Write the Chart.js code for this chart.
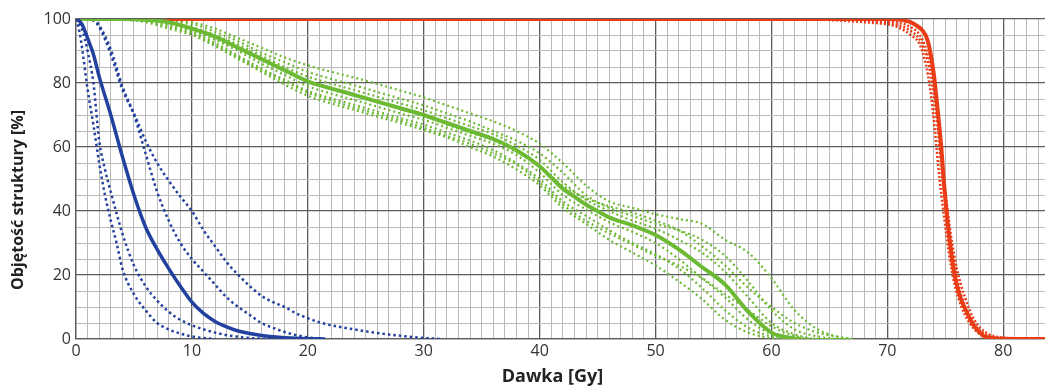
<!DOCTYPE html>
<html><head><meta charset="utf-8">
<script src="https://cdn.jsdelivr.net/npm/chart.js@4.4.1/dist/chart.umd.min.js"></script>
<style>html,body{margin:0;padding:0;background:#fff;} #wrap{width:1045px;height:387px;position:relative;}</style>
</head><body><div id="wrap"><canvas id="c" width="1045" height="387"></canvas></div>
<script>
const xAxisTitle = 'Dawka [Gy]';
const yAxisTitle = 'Objętość struktury [%]';
const xLabelTicks = [0, 10, 20, 30, 40, 50, 60, 70, 80];
const yLabelTicks = [0, 20, 40, 60, 80, 100];

// Blue structure (solid = mean, dotted = individual)
const blueSolidDose = [0,0.5,1,1.5,2,3,4,5,6,7,8,9,10,11,12,13,14,15,16,17,18,19,20,21,21.5];
const blueSolidVol  = [100,98.5,94,89,82,70,57,45,35,28,22,16.5,11.5,8,5.5,3.8,2.5,1.7,1.1,0.7,0.4,0.2,0.1,0.05,0];
const blueD1Dose = [0,0.3,0.6,1,1.5,2,2.5,3,3.5,4,5,6,7,8,9,10,11,12];
const blueD1Vol  = [100,96,89,78,67,55,45,37,30,22,14,9,5,3,1.7,0.8,0.3,0];
const blueD2Dose = [0,0.5,1,1.5,2,2.5,3,4,5,6,7,8,9,10,11,12,13,14,15,16,17];
const blueD2Vol  = [100,97,90,80,62,53,46,33,23,16.5,12,8.5,6,4.3,3,2,1.2,0.7,0.3,0.1,0];
const blueD3Dose = [0,1,1.5,2,3,4,5,6,7,8,9,10,11,12,13,14,15,16,17,18,19,20,21];
const blueD3Vol  = [100,100,99.5,97.5,89,78,70,58,46,37,30,25,21,17,13,10,7.5,5,3.5,2.2,1.2,0.5,0];
const blueD4Dose = [0,1,1.5,2,3,4,5,6,7,8,9,10,11,12,13,14,15,16,17,18,19,20,21,22,23,24,25,26,27,28,29,30,31,31.5];
const blueD4Vol  = [100,100,99.8,98,90.5,79,70.5,62,55,49.5,44.5,40,34,29,24,20,16.5,13.5,11.5,10,8,6.5,5.2,4.3,3.6,3,2.4,1.9,1.4,1,0.6,0.3,0.1,0];

// Green structure
const greenSolidDose = [0,4,6,8,10,12,14,16,18,20,22,24,26,28,30,32,34,36,38,40,41,42,43,44,45,46,48,50,52,54,56,58,60,61,62,62.5];
const greenSolidVol  = [100,100,99.8,99,97,94.5,91,87.5,84,80.5,78.3,76.3,74.2,72.1,70,67.5,65,62.5,59,54,50.5,47,44.5,42,40,38,35.5,32.5,28,22.5,17,8.5,2,0.8,0.2,0];
const greenDose = [0,4,6,8,10,12,14,16,18,20,22,24,26,28,30,32,34,36,38,40,42,44,46,48,50,52,54,56,58,60,62,64,66,67];
const greenD1Vol = [100,100,100,99.8,99,97,94,91,88,85.5,83.5,81.7,79.7,77.6,75.5,73,70.5,68,65,61,55,48,43,41,39,37.5,36,31,27,19,9,3,0.5,0];
const greenD2Vol = [100,100,99.9,99.5,98.5,96,93,89.5,86.5,83.5,81.3,79.3,77.2,75.1,73,70.5,68,65,62,58,52,45,41,38.5,36,34,31,26,18,9,3,0.8,0,0];
const greenD3Vol = [100,100,99.8,99,97.5,95,92,88.5,85,82,79.8,77.8,75.7,73.6,71.5,69,66.5,64,60.5,56,49,43.5,40,37,34.5,31,27,21,13,5,1.5,0,0,0];
const greenD4Vol = [100,100,99.5,98.5,96.5,93.5,90,86,82.5,79,76.7,74.7,72.6,70.5,68.5,66,63.5,61,57.5,52,45,40.5,36.5,33.5,30,25,19,13,6,1.5,0,0,0,0];
const greenD5Vol = [100,100,99.5,98,96,92.5,88.5,84.5,81,77.5,75.2,73.2,71.1,69,67,64.5,62,59,55,50,43,38.5,34,30,26.5,22,16,9,3.5,0.8,0,0,0,0];
const greenD6Vol = [100,99.8,99,97,95,91.5,87.5,83.5,79.5,76,73.6,71.6,69.5,67.5,65.3,63,60,57,53,48,41,36,31,27,23,18,12.5,6,2,0.3,0,0,0,0];
const greenD7Vol = [100,100,99.7,99,97,94,90.5,87,83.5,80.5,78,76,74,71.8,69.7,67,64.5,62,58.5,54,48,44,41.5,39.5,37,34,29,23,16,10,5,2,0.5,0];
const greenD8Vol = [100,99.9,99.3,97.5,95.5,92,88,84,80.5,77,74.5,72.4,70.3,68.2,66,63.5,61,58,54.5,49,42,37,33,29.5,26,23,19,14,9,4,1,0,0,0];

// Red structure
const redSolidDose = [0,70,71,72,72.5,73,73.5,74,74.3,74.65,74.9,75.1,75.4,75.8,76.3,76.9,77.5,78.3,79,80,84];
const redSolidVol  = [100,100,99.8,99,98,96.5,93,83,73,60,48,40,30,20,13,8,4,1,0.3,0.1,0];
const redD1Dose = [0,60,64,66,68,70,71,72,72.8,73.3,73.7,74.1,74.5,74.9,75.3,75.8,76.4,77,77.8,79,80];
const redD1Vol  = [100,100,99.8,99.5,99,98.3,97.3,95,92,86,78,65,50,38,27,17,10,5.5,2,0.3,0];
const redD2Dose = [0,62,66,69,71,72,72.8,73.4,73.9,74.3,74.7,75.1,75.5,76,76.6,77.3,78.2,79.5,81];
const redD2Vol  = [100,100,99.7,99.2,98,96.3,93.5,88,79,67,52,40,29,19,11,5.5,2,0.3,0];
const redD3Dose = [0,66,69,71,72,72.8,73.4,73.9,74.3,74.7,75.1,75.5,76,76.7,77.5,78.5,80,82];
const redD3Vol  = [100,100,99.6,98.8,97.5,95,90,82,70,55,43,32,22,13,6,2,0.4,0];

const BLUE = '#22409e', GREEN = '#6cba33', RED = '#ea3c16';
const MAJOR = '#5c5c5c', MINOR = '#bababa';

function pts(xs, ys) { return xs.map((x, i) => ({ x: x, y: ys[i] })); }
function solid(label, xs, ys, color, w) {
  return { label, data: pts(xs, ys), borderColor: color, borderWidth: w, pointRadius: 0, cubicInterpolationMode: 'monotone', fill: false };
}
function dotted(label, xs, ys, color, w, dash) {
  return { label, data: pts(xs, ys), borderColor: color, borderWidth: w, borderDash: dash, pointRadius: 0, cubicInterpolationMode: 'monotone', fill: false };
}

const datasets = [
  solid('blue', blueSolidDose, blueSolidVol, BLUE, 3.5),
  solid('green', greenSolidDose, greenSolidVol, GREEN, 4),
  solid('red', redSolidDose, redSolidVol, RED, 4),
  dotted('b1', blueD1Dose, blueD1Vol, BLUE, 2.5, [2.5, 3]),
  dotted('b2', blueD2Dose, blueD2Vol, BLUE, 2.5, [2.5, 3]),
  dotted('b3', blueD3Dose, blueD3Vol, BLUE, 2.5, [2.5, 3]),
  dotted('b4', blueD4Dose, blueD4Vol, BLUE, 2.5, [2.5, 3]),
  dotted('g1', greenDose, greenD1Vol, GREEN, 2.2, [2, 3]),
  dotted('g2', greenDose, greenD2Vol, GREEN, 2.2, [2, 3]),
  dotted('g3', greenDose, greenD3Vol, GREEN, 2.2, [2, 3]),
  dotted('g4', greenDose, greenD4Vol, GREEN, 2.2, [2, 3]),
  dotted('g5', greenDose, greenD5Vol, GREEN, 2.2, [2, 3]),
  dotted('g6', greenDose, greenD6Vol, GREEN, 2.2, [2, 3]),
  dotted('g7', greenDose, greenD7Vol, GREEN, 2.2, [2, 3]),
  dotted('g8', greenDose, greenD8Vol, GREEN, 2.2, [2, 3]),
  dotted('r1', redD1Dose, redD1Vol, RED, 2.5, [2, 2]),
  dotted('r2', redD2Dose, redD2Vol, RED, 2.5, [2, 2]),
  dotted('r3', redD3Dose, redD3Vol, RED, 2.5, [2, 2])
];

const titleShift = {
  id: 'titleShift',
  afterLayout(chart) {
    [[chart.scales.y, 0, 21], [chart.scales.x, -8, 0]].forEach(([s, dx, dy]) => {
      if (!s || s._shiftDone) return;
      const orig = s.drawTitle.bind(s);
      s.drawTitle = function () { const c = this.ctx; c.save(); c.translate(dx, dy); orig(); c.restore(); };
      s._shiftDone = true;
    });
  }
};

new Chart(document.getElementById('c'), {
  type: 'line',
  data: { datasets },
  plugins: [titleShift],
  options: {
    responsive: false,
    animation: false,
    devicePixelRatio: 1,
    layout: { padding: { top: 19, right: 0, bottom: 0, left: 0 } },
    plugins: { legend: { display: false }, tooltip: { enabled: false } },
    scales: {
      x: {
        type: 'linear', min: 0, max: 83.6,
        afterFit: s => { s.height = 48; },
        ticks: {
          stepSize: 1, autoSkip: false, includeBounds: false, maxRotation: 0, padding: 3,
          color: '#333', font: { family: 'Open Sans', size: 16 },
          callback: v => xLabelTicks.includes(v) ? String(v) : ''
        },
        grid: {
          drawTicks: false, lineWidth: ctx => (ctx.tick && xLabelTicks.includes(ctx.tick.value)) ? 1.3 : 1,
          color: ctx => (ctx.tick && xLabelTicks.includes(ctx.tick.value)) ? MAJOR : MINOR
        },
        border: { display: true, color: MAJOR, width: 1.3 },
        title: { display: true, text: xAxisTitle, color: '#222', font: { family: 'Open Sans', size: 18, weight: 'bold' }, padding: { top: 0, bottom: -1 } }
      },
      y: {
        type: 'linear', min: 0, max: 100,
        afterFit: s => { s.width = 76; },
        ticks: {
          stepSize: 5, autoSkip: false, includeBounds: false, padding: 5,
          color: '#333', font: { family: 'Open Sans', size: 16 },
          callback: v => yLabelTicks.includes(v) ? String(v) : ''
        },
        grid: {
          drawTicks: false, lineWidth: ctx => (ctx.tick && yLabelTicks.includes(ctx.tick.value)) ? 1.3 : 1,
          color: ctx => (ctx.tick && yLabelTicks.includes(ctx.tick.value)) ? MAJOR : MINOR
        },
        border: { display: true, color: MAJOR, width: 1.3 },
        title: { display: true, text: yAxisTitle, color: '#222', font: { family: 'Open Sans', size: 16, weight: 'bold' }, padding: { top: 9, bottom: 0 } }
      }
    }
  }
});
</script></body></html>
